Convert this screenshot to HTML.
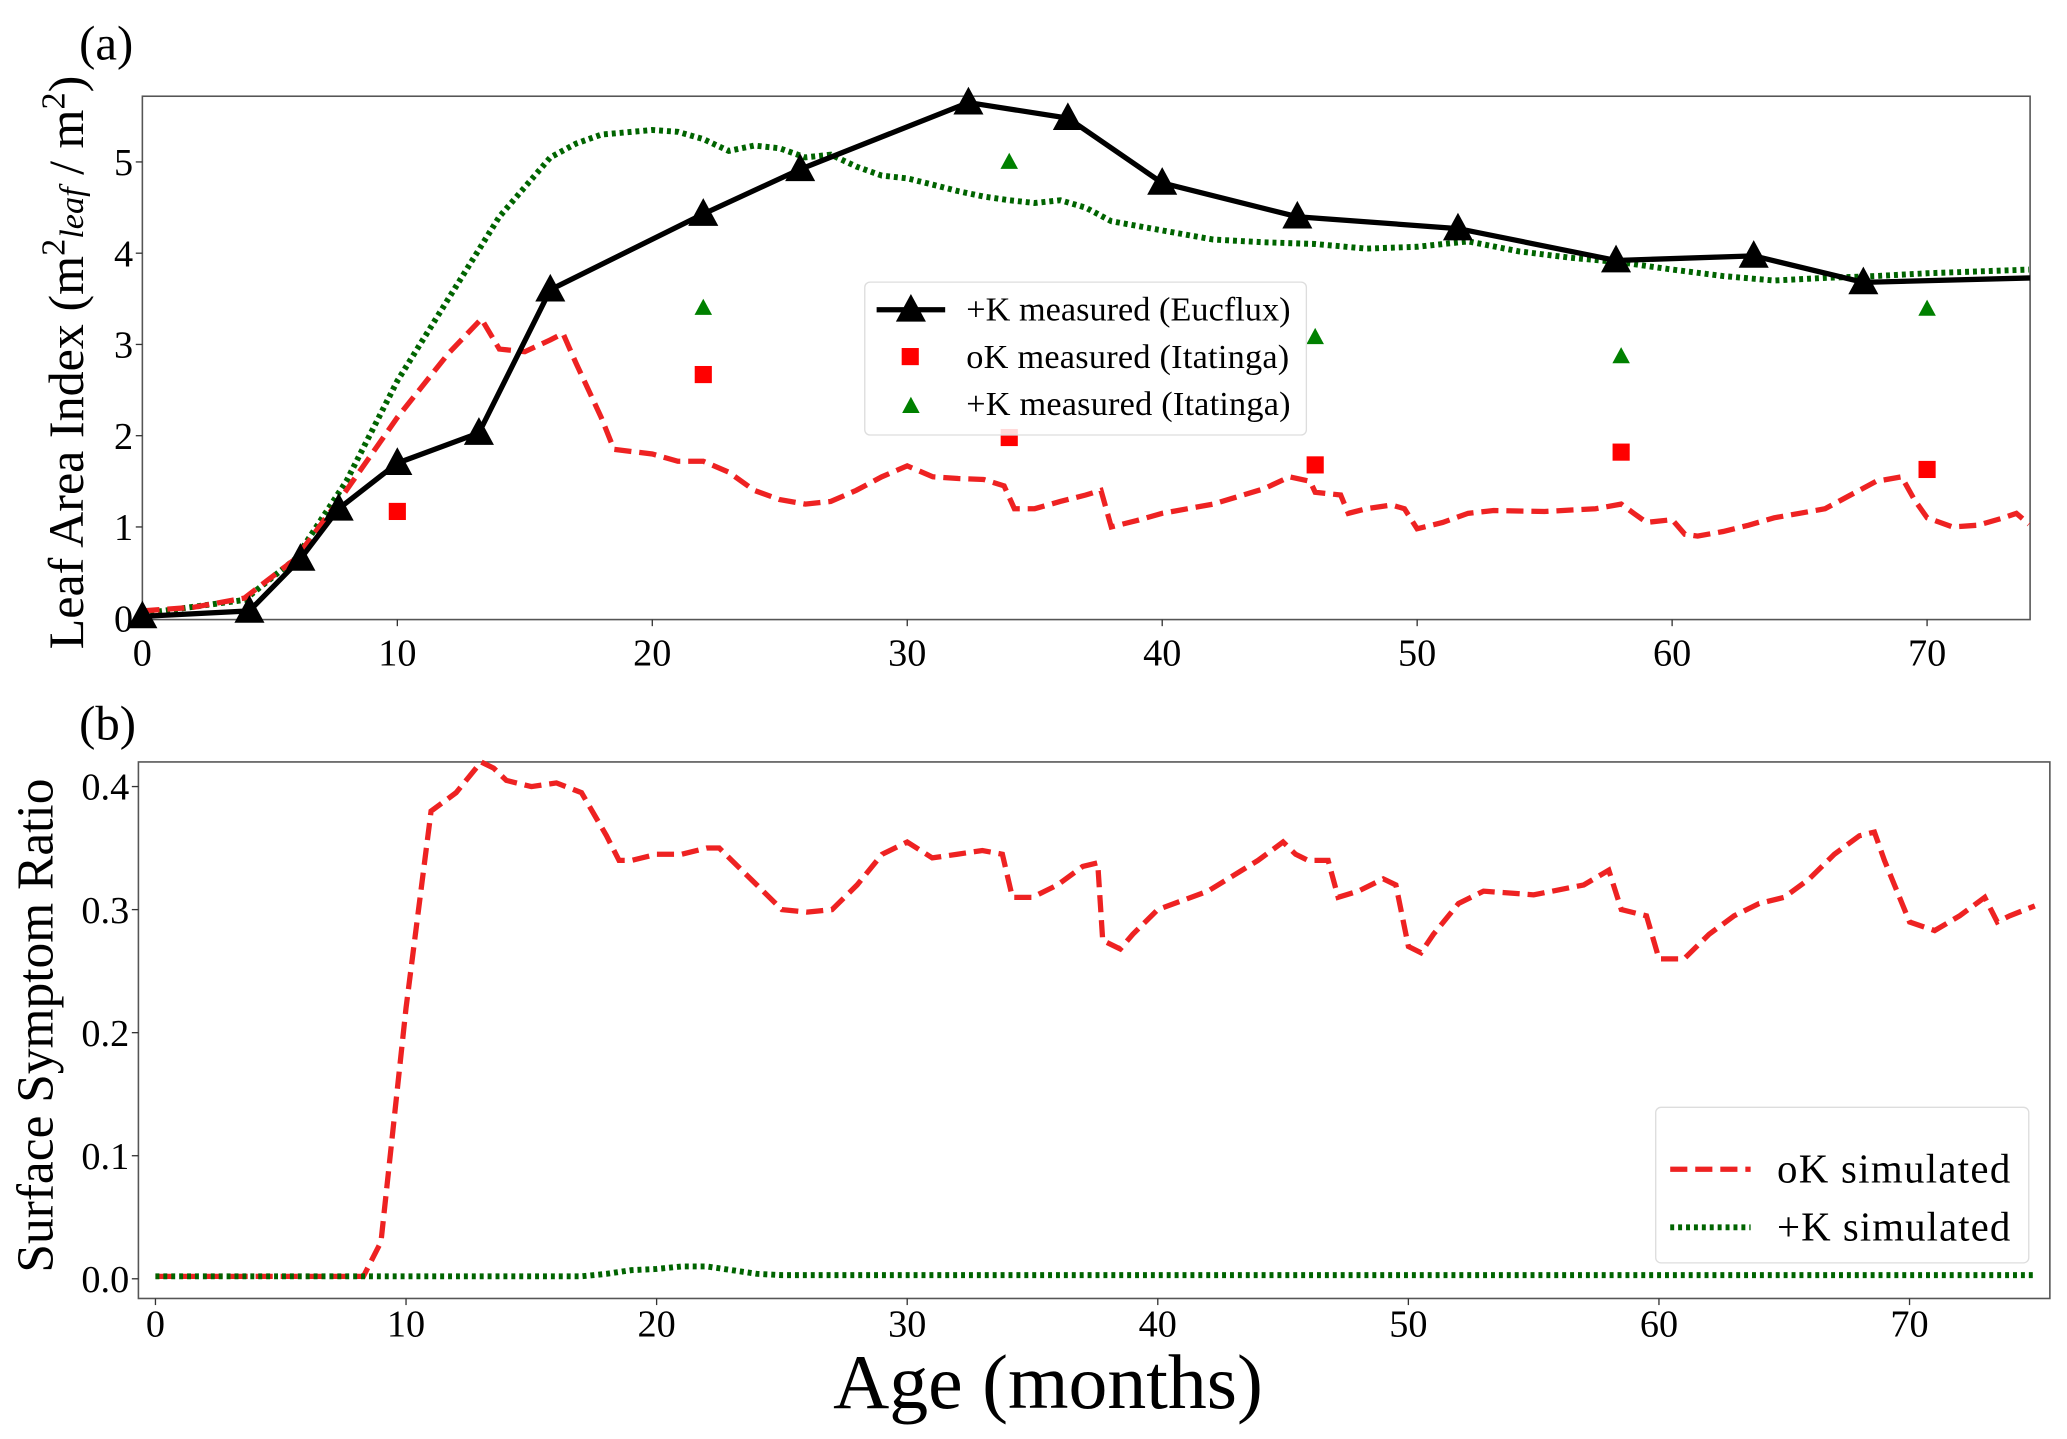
<!DOCTYPE html>
<html><head><meta charset="utf-8"><style>
html,body{margin:0;padding:0;background:#fff;}
svg{display:block;font-family:"Liberation Serif",serif;}
</style></head><body>
<svg id="fig" width="2067" height="1439" viewBox="0 0 1568 1091.6" preserveAspectRatio="none">
<defs>
<clipPath id="clipA"><rect x="108" y="60" width="1432" height="420"/></clipPath>
<clipPath id="clipB"><rect x="105" y="570" width="1450" height="420"/></clipPath>
</defs>
<g id="pa"></g>
<g id="pb"></g>
</svg>
<script>
// ---------- Panel (a) data ----------
const euXs=[0,4.2,6.2,7.7,10,13.2,16,22,25.8,32.4,36.3,40,45.3,51.6,57.8,63.2,67.5,75.5];
const euYs=[0.02,0.08,0.65,1.2,1.7,2.03,3.6,4.43,4.92,5.65,5.48,4.77,4.4,4.27,3.92,3.97,3.68,3.74];
const okItXs=[10,22,34,46,58,70];
const okItYs=[1.17,2.67,1.98,1.68,1.82,1.63];
const pkItXs=[22,34,46,58,70];
const pkItYs=[3.4,5.0,3.08,2.87,3.39];
const gSimXs=[0,4,6,8,10,12,14,16,17,18,20,21,22,23,24,25,26,27,28,29,30,31,32,33,34,35,36,37,38,40,42,44,46,48,50,52,54,56,58,60,62,64,66,68,70,72,74];
const gSimYs=[0.05,0.2,0.65,1.5,2.6,3.5,4.4,5.05,5.2,5.3,5.35,5.33,5.25,5.12,5.18,5.15,5.05,5.08,4.95,4.85,4.82,4.75,4.68,4.62,4.58,4.55,4.58,4.5,4.35,4.25,4.15,4.12,4.1,4.05,4.07,4.13,4.02,3.95,3.9,3.82,3.75,3.7,3.73,3.75,3.78,3.8,3.82];
const rSimXs=[0,2,4,6,8,10,12,13.3,14,15,16,16.5,17,18,18.5,20,21,22,23,24,25,26,27,28,29,30,31,32,33,33.8,34.2,35,36,37,37.6,38,39,40,42,44,45,45.8,46,47,47.3,48,49,49.5,50,51,52,53,55,57,58,58.5,59,60,60.5,61,62,63,64,65,66,67,68,69,69.5,70,71,72,73,73.5,74];
const rSimYs=[0.08,0.12,0.22,0.65,1.4,2.2,2.9,3.28,2.95,2.92,3.05,3.12,2.8,2.2,1.85,1.8,1.72,1.72,1.6,1.4,1.3,1.25,1.28,1.4,1.55,1.67,1.55,1.53,1.52,1.45,1.2,1.2,1.28,1.35,1.4,1.0,1.07,1.15,1.25,1.42,1.55,1.5,1.38,1.35,1.15,1.2,1.24,1.2,0.98,1.05,1.15,1.18,1.17,1.2,1.25,1.15,1.05,1.08,0.92,0.9,0.95,1.02,1.1,1.15,1.2,1.35,1.5,1.55,1.3,1.1,1.0,1.02,1.1,1.15,1.03];
const aXTicks=[0,10,20,30,40,50,60,70];
const aYTicks=[0,1,2,3,4,5];
// ---------- Panel (b) data ----------
const bRXs=[0,8.3,9,10,11,12,13,13.5,14,15,16,17,18,18.5,19,20,21,22,22.5,23,24,25,26,27,28,29,30,31,32,33,33.8,34.2,35,36,37,37.6,37.8,38.5,39,40,42,44,45,45.5,46,46.8,47.2,48,49,49.5,50,50.5,51,52,53,55,57,58,58.5,59.5,60,61,62,63,64,65,66,67,68,68.6,69,70,71,72,73,73.5,74,75];
const bRYs=[0.002,0.002,0.03,0.22,0.38,0.395,0.42,0.415,0.405,0.4,0.403,0.395,0.36,0.34,0.34,0.345,0.345,0.35,0.35,0.34,0.32,0.3,0.298,0.3,0.32,0.345,0.355,0.342,0.345,0.348,0.345,0.31,0.31,0.32,0.335,0.338,0.275,0.268,0.28,0.3,0.315,0.34,0.355,0.345,0.34,0.34,0.31,0.315,0.325,0.32,0.27,0.265,0.28,0.305,0.315,0.312,0.32,0.332,0.3,0.295,0.26,0.26,0.28,0.295,0.305,0.31,0.325,0.345,0.36,0.363,0.34,0.29,0.283,0.295,0.31,0.29,0.295,0.303];
const bGXs=[0,17,18,19,20,21,22,23,24,25,75];
const bGYs=[0.002,0.002,0.004,0.007,0.008,0.01,0.01,0.007,0.004,0.003,0.003];
const bXTicks=[0,10,20,30,40,50,60,70];
const bYTicks=[0.0,0.1,0.2,0.3,0.4];

const NS="http://www.w3.org/2000/svg";
function mk(parent,tag,attrs,text){const e=document.createElementNS(NS,tag);for(const k in attrs)e.setAttribute(k,attrs[k]);if(text!==undefined)e.textContent=text;parent.appendChild(e);return e;}

const A={l:108,r:1540,t:73,b:470,x0:0,x1:74.04,y0:-0.015,y1:5.72};
const ax=v=>A.l+(v-A.x0)/(A.x1-A.x0)*(A.r-A.l);
const ay=v=>A.b-(v-A.y0)/(A.y1-A.y0)*(A.b-A.t);
const B={l:105,r:1555,t:578,b:985,x0:-0.68,x1:75.6,y0:-0.016,y1:0.42};
const bx=v=>B.l+(v-B.x0)/(B.x1-B.x0)*(B.r-B.l);
const by=v=>B.b-(v-B.y0)/(B.y1-B.y0)*(B.b-B.t);

const pa=document.getElementById('pa'), pb=document.getElementById('pb');
function pathD(xs,ys,fx,fy){return xs.map((x,i)=>(i?'L':'M')+fx(x).toFixed(1)+','+fy(ys[i]).toFixed(1)).join('');}
function tri(cx,cy,s){return `${cx},${cy-s} ${cx-s*0.95},${cy+s*0.75} ${cx+s*0.95},${cy+s*0.75}`;}
const TF=29;
let e;
// ---- Panel a ----
e=mk(pa,'text',{x:60,y:45,'font-size':37});e.textContent='(a)';


e=mk(pa,'rect',{x:A.l,y:A.t,width:A.r-A.l,height:A.b-A.t,fill:'none',stroke:'#555','stroke-width':1.2});


aXTicks.forEach(t=>{e=mk(pa,'text',{x:ax(t),y:505,'font-size':TF,'text-anchor':'middle'},String(t));


mk(pa,'line',{x1:ax(t),x2:ax(t),y1:A.b,y2:A.b+5,stroke:'#333','stroke-width':1});});
aYTicks.forEach(t=>{e=mk(pa,'text',{x:101,y:ay(t)+10,'font-size':TF,'text-anchor':'end'},String(t));


mk(pa,'line',{x1:A.l-5,x2:A.l,y1:ay(t),y2:ay(t),stroke:'#333','stroke-width':1});});
e=mk(pa,'text',{transform:'translate(63,275) rotate(-90)','font-size':38,'text-anchor':'middle'});
e.innerHTML='Leaf Area Index (m<tspan dy="-14" font-size="26">2</tspan><tspan dy="14" font-size="26" font-style="italic">leaf</tspan> / m<tspan dy="-14" font-size="26">2</tspan><tspan dy="14">)</tspan>';



const ca=mk(pa,'g',{'clip-path':'url(#clipA)'});
e=mk(ca,'path',{d:pathD(gSimXs,gSimYs,ax,ay),fill:'none',stroke:'#006400','stroke-width':4.5,'stroke-dasharray':'3,3'});


e=mk(ca,'path',{d:pathD(rSimXs,rSimYs,ax,ay),fill:'none',stroke:'#ee2222','stroke-width':4,'stroke-dasharray':'13,6'});


e=mk(ca,'path',{d:pathD(euXs,euYs,ax,ay),fill:'none',stroke:'#000','stroke-width':4});


euXs.forEach((x,i)=>{if(x>A.x1)return;e=mk(pa,'polygon',{points:tri(ax(x),ay(euYs[i]),12),fill:'#000'});

});
okItXs.forEach((x,i)=>{e=mk(pa,'rect',{x:ax(x)-6.5,y:ay(okItYs[i])-6.5,width:13,height:13,fill:'#ff0000'});

});
pkItXs.forEach((x,i)=>{e=mk(pa,'polygon',{points:tri(ax(x),ay(pkItYs[i]),7),fill:'#008000'});

});

const lg=mk(pa,'g',{});


mk(lg,'rect',{x:656,y:214,width:335,height:116,rx:4,fill:'rgba(255,255,255,0.85)',stroke:'#ddd','stroke-width':1});
mk(lg,'line',{x1:665,x2:717,y1:235,y2:235,stroke:'#000','stroke-width':4});
mk(lg,'polygon',{points:tri(691,235,12),fill:'#000'});
mk(lg,'text',{x:733,y:243,'font-size':26,textLength:246},'+K measured (Eucflux)');
mk(lg,'rect',{x:684,y:264,width:13,height:13,fill:'#ff0000'});
mk(lg,'text',{x:733,y:279,'font-size':26,textLength:245},'oK measured (Itatinga)');
mk(lg,'polygon',{points:tri(691,308,7),fill:'#008000'});
mk(lg,'text',{x:733,y:315,'font-size':26,textLength:246},'+K measured (Itatinga)');

// ---- Panel b ----
e=mk(pb,'text',{x:60,y:561,'font-size':37});e.textContent='(b)';


e=mk(pb,'rect',{x:B.l,y:B.t,width:B.r-B.l,height:B.b-B.t,fill:'none',stroke:'#555','stroke-width':1.2});


bXTicks.forEach(t=>{e=mk(pb,'text',{x:bx(t),y:1014,'font-size':TF,'text-anchor':'middle'},String(t));


mk(pb,'line',{x1:bx(t),x2:bx(t),y1:B.b,y2:B.b+5,stroke:'#333','stroke-width':1});});
bYTicks.forEach(t=>{e=mk(pb,'text',{x:98,y:by(t)+10,'font-size':TF,'text-anchor':'end'},t.toFixed(1));


mk(pb,'line',{x1:B.l-5,x2:B.l,y1:by(t),y2:by(t),stroke:'#333','stroke-width':1});});
e=mk(pb,'text',{transform:'translate(40,778) rotate(-90)','font-size':39,'text-anchor':'middle'},'Surface Symptom Ratio');


e=mk(pb,'text',{x:795,y:1068,'font-size':59,'text-anchor':'middle'},'Age (months)');



const cb=mk(pb,'g',{'clip-path':'url(#clipB)'});
e=mk(cb,'path',{d:pathD(bRXs,bRYs,bx,by),fill:'none',stroke:'#ee2222','stroke-width':4,'stroke-dasharray':'13,6'});


e=mk(cb,'path',{d:pathD(bGXs,bGYs,bx,by),fill:'none',stroke:'#006400','stroke-width':4.5,'stroke-dasharray':'3,3'});



const lb=mk(pb,'g',{});


mk(lb,'rect',{x:1256,y:840,width:283,height:118,rx:4,fill:'rgba(255,255,255,0.85)',stroke:'#ddd','stroke-width':1});
mk(lb,'line',{x1:1267,x2:1328,y1:887,y2:887,stroke:'#ee2222','stroke-width':4,'stroke-dasharray':'13,6'});
mk(lb,'text',{x:1348,y:897,'font-size':31,textLength:177},'oK simulated');
mk(lb,'line',{x1:1267,x2:1328,y1:931,y2:931,stroke:'#006400','stroke-width':4.5,'stroke-dasharray':'3,3'});
mk(lb,'text',{x:1348,y:941,'font-size':31,textLength:177},'+K simulated');
</script>
</body></html>
